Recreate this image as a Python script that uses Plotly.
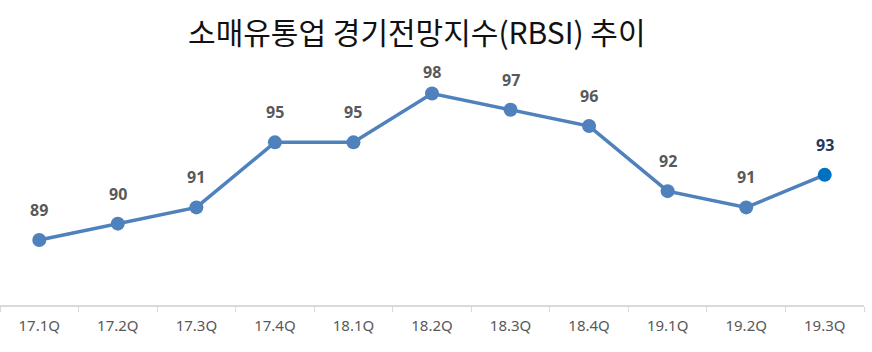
import plotly.graph_objects as go

quarters = ["17.1Q", "17.2Q", "17.3Q", "17.4Q", "18.1Q", "18.2Q", "18.3Q", "18.4Q", "19.1Q", "19.2Q", "19.3Q"]
rbsi = [89, 90, 91, 95, 95, 98, 97, 96, 92, 91, 93]
title_text = "소매유통업 경기전망지수(RBSI) 추이"

line_color = "#4F81BD"
last_color = "#0070C0"
label_color = "#595959"
last_label_color = "#1F3864"

n = len(quarters)
marker_colors = [line_color] * (n - 1) + [last_color]

y_min, y_max = 85, 100
plot_h = 352 - 61 - 47
px_per_unit = plot_h / (y_max - y_min)

fig = go.Figure()
fig.add_trace(go.Scatter(
    x=quarters, y=rbsi, mode="lines+markers",
    line=dict(color=line_color, width=3.5),
    marker=dict(size=14, color=marker_colors),
    hoverinfo="skip", showlegend=False,
))

for i, (q, v) in enumerate(zip(quarters, rbsi)):
    # keep the label inside the plot area (as the original does for the peak)
    shift = min(30, (y_max - v) * px_per_unit - 11)
    fig.add_annotation(
        x=q, y=v, text=f"<b>{v}</b>", showarrow=False, yshift=shift,
        font=dict(family="Noto Sans, DejaVu Sans, sans-serif", size=16,
                  color=last_label_color if i == n - 1 else label_color),
    )

fig.update_layout(
    width=872, height=352,
    margin=dict(l=0, r=8, t=61, b=47),
    paper_bgcolor="white", plot_bgcolor="white",
    title=dict(text=title_text, x=0.478, xanchor="center", y=0.905, yanchor="middle",
               font=dict(family="Noto Sans CJK KR", size=30, color="#111111")),
    xaxis=dict(
        type="category", range=[-0.5, n - 0.5],
        showline=True, linecolor="#D9D9D9", linewidth=1.5,
        ticks="outside", tickson="boundaries", ticklen=5, tickcolor="#D9D9D9",
        ticklabelstandoff=6,
        showgrid=False, zeroline=False,
        tickfont=dict(family="Noto Sans, sans-serif", size=15, color=label_color),
    ),
    yaxis=dict(range=[y_min, y_max], visible=False, showgrid=False, zeroline=False),
)

fig.write_html("out.html")
